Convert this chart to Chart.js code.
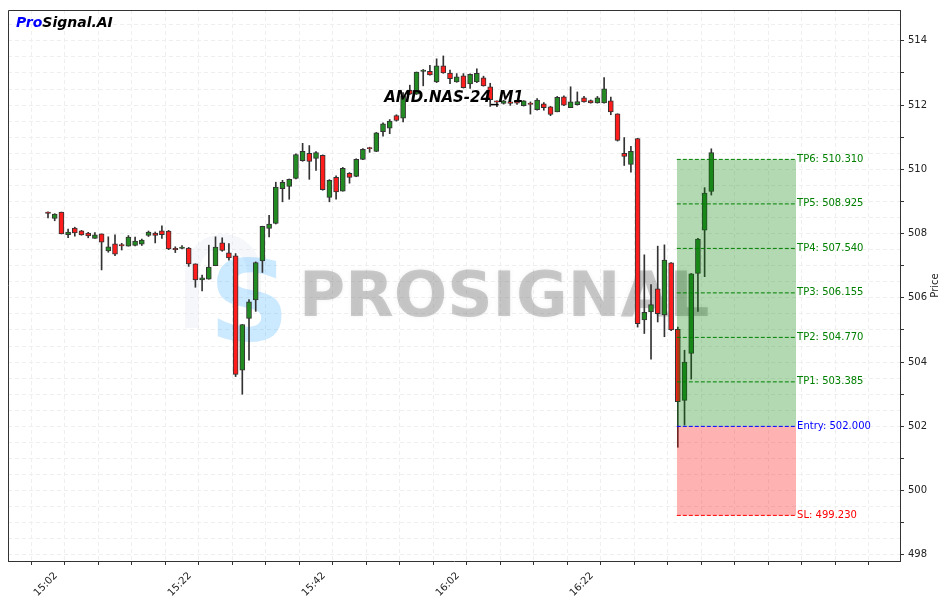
<!DOCTYPE html>
<html>
<head>
<meta charset="utf-8">
<script src="https://cdn.jsdelivr.net/npm/chart.js@4.4.0/dist/chart.umd.min.js"></script>
<style>html,body{margin:0;padding:0;background:#fff}</style>
</head>
<body>
<canvas id="myChart" width="947" height="603"></canvas>
<script>
// one candle per minute, index 0 = 15:02
const openP = [508.67,508.47,508.67,507.97,508.17,508.09,508.02,507.85,507.99,507.46,
  507.68,507.66,507.61,507.63,507.67,507.94,508.02,508.09,508.08,507.54,
  507.54,507.55,507.06,506.56,506.58,507.00,507.71,507.40,507.31,503.75,
  505.36,505.94,507.15,508.16,508.32,509.40,509.47,509.72,510.27,510.50,
  510.34,510.44,509.13,509.75,509.32,509.88,509.78,510.31,510.68,510.56,
  511.17,511.28,511.67,511.59,512.47,512.34,513.05,513.05,512.72,513.22,
  513.00,512.72,512.91,512.66,512.72,512.85,512.57,512.13,512.05,512.10,
  512.10,511.98,512.06,511.86,512.04,511.95,511.79,512.26,511.92,512.01,
  512.23,512.14,512.07,512.07,512.13,511.73,510.50,510.15,510.96,505.31,
  505.56,506.28,505.47,507.09,505.02,502.81,504.27,506.76,508.11,509.31];
const highP = [508.68,508.62,508.67,508.14,508.20,508.10,508.04,508.03,507.99,507.90,
  507.96,507.70,507.94,507.89,507.83,508.08,508.05,508.24,508.10,507.59,
  507.63,507.57,507.06,506.71,507.64,507.90,507.87,507.69,507.38,505.17,
  505.95,507.12,508.23,508.57,509.60,509.66,509.70,510.48,510.81,510.74,
  510.55,510.45,509.68,509.80,510.06,509.90,510.33,510.65,510.69,511.15,
  511.45,511.55,511.70,512.39,512.62,513.03,513.11,513.24,513.44,513.53,
  513.09,512.98,512.98,512.97,513.13,512.90,512.68,512.13,512.15,512.11,
  512.12,512.14,512.10,512.20,512.08,511.96,512.27,512.29,512.57,512.41,
  512.27,512.16,512.27,512.86,512.25,511.73,510.99,510.72,510.97,507.34,
  506.41,507.61,507.65,507.10,505.09,504.37,506.76,507.85,509.43,510.64];
const lowP = [508.49,508.40,507.99,507.87,507.92,507.95,507.87,507.85,506.87,507.42,
  507.31,507.49,507.61,507.62,507.63,507.91,507.71,507.85,507.50,507.41,
  507.52,506.98,506.33,506.22,506.58,507.00,507.45,507.17,503.55,503.00,
  504.06,505.58,506.79,507.90,508.30,508.99,509.07,509.70,510.25,509.69,
  509.97,509.35,508.99,509.07,509.32,509.57,509.77,510.30,510.53,510.55,
  511.03,511.11,511.50,511.48,512.33,512.33,512.60,512.93,512.70,512.99,
  512.67,512.71,512.53,512.52,512.70,512.59,511.96,511.95,512.03,511.99,
  512.02,511.97,511.72,511.84,511.84,511.67,511.79,511.98,511.92,512.00,
  512.09,512.06,512.06,512.06,511.70,510.88,510.12,509.91,505.09,504.89,
  504.09,505.25,504.79,504.98,501.35,502.04,503.47,505.58,506.66,509.20];
const closeP = [508.63,508.61,507.99,508.05,508.02,507.96,507.93,507.96,507.73,507.59,
  507.36,507.62,507.89,507.77,507.80,508.05,507.94,507.97,507.52,507.50,
  507.58,507.06,506.56,506.62,506.96,507.58,507.48,507.24,503.62,505.17,
  505.88,507.10,508.23,508.30,509.45,509.60,509.69,510.46,510.56,510.25,
  510.52,509.37,509.66,509.30,510.03,509.75,510.31,510.62,510.64,511.14,
  511.42,511.50,511.52,512.29,512.34,513.03,513.09,512.94,513.22,513.00,
  512.82,512.88,512.54,512.96,512.99,512.60,512.17,512.09,512.13,512.05,
  512.06,512.13,512.02,512.16,511.92,511.71,512.24,512.00,512.10,512.11,
  512.10,512.07,512.23,512.51,511.79,510.90,510.40,510.56,505.20,505.55,
  505.79,505.51,507.18,505.00,502.77,504.00,506.75,507.83,509.26,510.52];

// x axis labels (minute index -> time)
const tickMinutes = [0, 20, 40, 60, 80];
const tickLabels = ["15:02", "15:22", "15:42", "16:02", "16:22"];

// trade setup
const levelNames = ["TP6", "TP5", "TP4", "TP3", "TP2", "TP1", "Entry", "SL"];
const levelValues = [510.310, 508.925, 507.540, 506.155, 504.770, 503.385, 502.000, 499.230];
const zoneFrom = 93.85;
const zoneTo = 111.65;

const UP = "#228b22", DOWN = "#ff1c1c", EDGE = "#333333";
const FONT = "DejaVu Sans";
const levelColor = (name) => name === "Entry" ? "#0000ff" : (name === "SL" ? "#ff0000" : "#008000");

const entry = levelValues[levelNames.indexOf("Entry")];
const stop = levelValues[levelNames.indexOf("SL")];
const topTp = levelValues[0];

const datasets = [];
datasets.push({
  type: "bar", order: 3, grouped: false,
  data: openP.map((o, i) => ({ x: i, y: [o, closeP[i]] })),
  backgroundColor: openP.map((o, i) => closeP[i] >= o ? UP : DOWN),
  borderColor: EDGE, borderWidth: 1, borderSkipped: false, barThickness: 5
});
datasets.push({
  type: "bar", order: 4, grouped: false,
  data: lowP.map((l, i) => ({ x: i, y: [l, highP[i]] })),
  backgroundColor: EDGE, borderWidth: 0, barThickness: 1
});
// profit / loss zones
datasets.push({
  type: "line", order: 2,
  data: [{ x: zoneFrom, y: topTp }, { x: zoneTo, y: topTp }],
  fill: { value: entry }, backgroundColor: "rgba(0,128,0,0.3)",
  borderWidth: 0, pointRadius: 0
});
datasets.push({
  type: "line", order: 2,
  data: [{ x: zoneFrom, y: entry }, { x: zoneTo, y: entry }],
  fill: { value: stop }, backgroundColor: "rgba(255,0,0,0.3)",
  borderWidth: 0, pointRadius: 0
});
levelValues.forEach((v, k) => {
  datasets.push({
    type: "line", order: 1,
    data: [{ x: zoneFrom, y: v }, { x: zoneTo, y: v }],
    borderColor: levelColor(levelNames[k]), borderWidth: 1, borderDash: [4, 2],
    pointRadius: 0, fill: false
  });
});

const decor = {
  id: "decor",
  beforeDatasetsDraw(chart) {
    const { ctx, chartArea: a } = chart;
    ctx.save();
    // faint logo outline
    ctx.strokeStyle = "rgba(215,225,238,0.25)";
    ctx.lineWidth = 14;
    ctx.beginPath();
    ctx.moveTo(a.left + 184, a.top + 318);
    ctx.lineTo(a.left + 184, a.top + 262);
    ctx.arc(a.left + 215, a.top + 262, 31, Math.PI, 0);
    ctx.lineTo(a.left + 246, a.top + 285);
    ctx.stroke();
    // blue S
    ctx.fillStyle = "rgba(0,150,255,0.2)";
    ctx.font = "bold 112px " + FONT;
    ctx.textBaseline = "alphabetic";
    ctx.fillText("S", a.left + 201, a.top + 330);
    // watermark
    ctx.fillStyle = "rgba(130,130,130,0.4)";
    ctx.shadowColor = "rgba(130,130,130,0.3)";
    ctx.shadowBlur = 4;
    ctx.font = "bold 63px " + FONT;
    ctx.fillText("PROSIGNAL", a.left + 291, a.top + 306);
    ctx.restore();
  },
  afterDatasetsDraw(chart) {
    const { ctx, chartArea: a, scales } = chart;
    ctx.save();
    ctx.font = "10px " + FONT;
    ctx.textBaseline = "middle";
    ctx.textAlign = "left";
    const lx = scales.x.getPixelForValue(zoneTo) + 1;
    levelValues.forEach((v, k) => {
      ctx.fillStyle = levelColor(levelNames[k]);
      ctx.fillText(levelNames[k] + ": " + v.toFixed(3), lx, scales.y.getPixelForValue(v));
    });
    // symbol title
    ctx.fillStyle = "#000";
    ctx.font = "italic bold 15px " + FONT;
    ctx.textAlign = "center";
    ctx.textBaseline = "alphabetic";
    ctx.fillText("AMD.NAS-24_M1", (a.left + a.right) / 2, a.top + 92);
    ctx.restore();
  },
  afterDraw(chart) {
    const { ctx, chartArea: a } = chart;
    ctx.save();
    ctx.strokeStyle = EDGE;
    ctx.lineWidth = 1;
    ctx.beginPath();
    ctx.moveTo(a.left + 0.5, a.bottom);
    ctx.lineTo(a.left + 0.5, a.top + 0.5);
    ctx.lineTo(a.right, a.top + 0.5);
    ctx.stroke();
    // brand
    ctx.font = "italic bold 14px " + FONT;
    ctx.textBaseline = "alphabetic";
    ctx.fillStyle = "#0000ff";
    ctx.fillText("Pro", a.left + 8, a.top + 17);
    const w = ctx.measureText("Pro").width;
    ctx.fillStyle = "#000";
    ctx.fillText("Signal.AI", a.left + 8 + w, a.top + 17);
    // y axis title, reading upwards
    ctx.translate(a.right + 35, (a.top + a.bottom) / 2);
    ctx.rotate(-Math.PI / 2);
    ctx.font = "10px " + FONT;
    ctx.fillStyle = "#222";
    ctx.textAlign = "center";
    ctx.textBaseline = "middle";
    ctx.fillText("Price", 0, 0);
    ctx.restore();
  }
};

const isMajorY = (v) => Math.abs(v / 2 - Math.round(v / 2)) < 1e-6;
const isIntY = (v) => Math.abs(v - Math.round(v)) < 1e-6;

new Chart(document.getElementById("myChart"), {
  type: "bar",
  data: { datasets },
  options: {
    responsive: false,
    animation: false,
    events: [],
    layout: { padding: { left: 8, top: 7, right: 0, bottom: 0 } },
    plugins: { legend: { display: false }, tooltip: { enabled: false } },
    scales: {
      x: {
        type: "linear",
        min: -5.97, max: 127.16,
        offset: false,
        afterFit: (s) => { s.height = 42; },
        grid: { color: "#efefef", tickColor: EDGE, tickLength: 4 },
        border: { color: EDGE, width: 1, dash: [4, 3] },
        ticks: {
          stepSize: 5, includeBounds: false, autoSkip: false, maxTicksLimit: 100,
          minRotation: 45, maxRotation: 45, padding: 5, labelOffset: 8,
          color: "#222", font: { family: FONT, size: 10 },
          callback: (v) => {
            const k = tickMinutes.indexOf(Math.round(v));
            return k >= 0 && Math.abs(v - Math.round(v)) < 1e-6 ? tickLabels[k] : "";
          }
        }
      },
      y: {
        type: "linear",
        position: "right",
        min: 497.81, max: 514.96,
        afterFit: (s) => { s.width = 47; },
        grid: {
          color: "#efefef", tickLength: 4,
          tickColor: (c) => isIntY(c.tick.value) ? EDGE : "rgba(0,0,0,0)"
        },
        border: { color: EDGE, width: 1, dash: [4, 3] },
        ticks: {
          stepSize: 0.5, includeBounds: false, autoSkip: false, maxTicksLimit: 100, padding: 4,
          color: "#222", font: { family: FONT, size: 10 },
          callback: (v) => isMajorY(v) ? String(Math.round(v)) : ""
        }
      }
    }
  },
  plugins: [decor]
});
</script>
</body>
</html>
